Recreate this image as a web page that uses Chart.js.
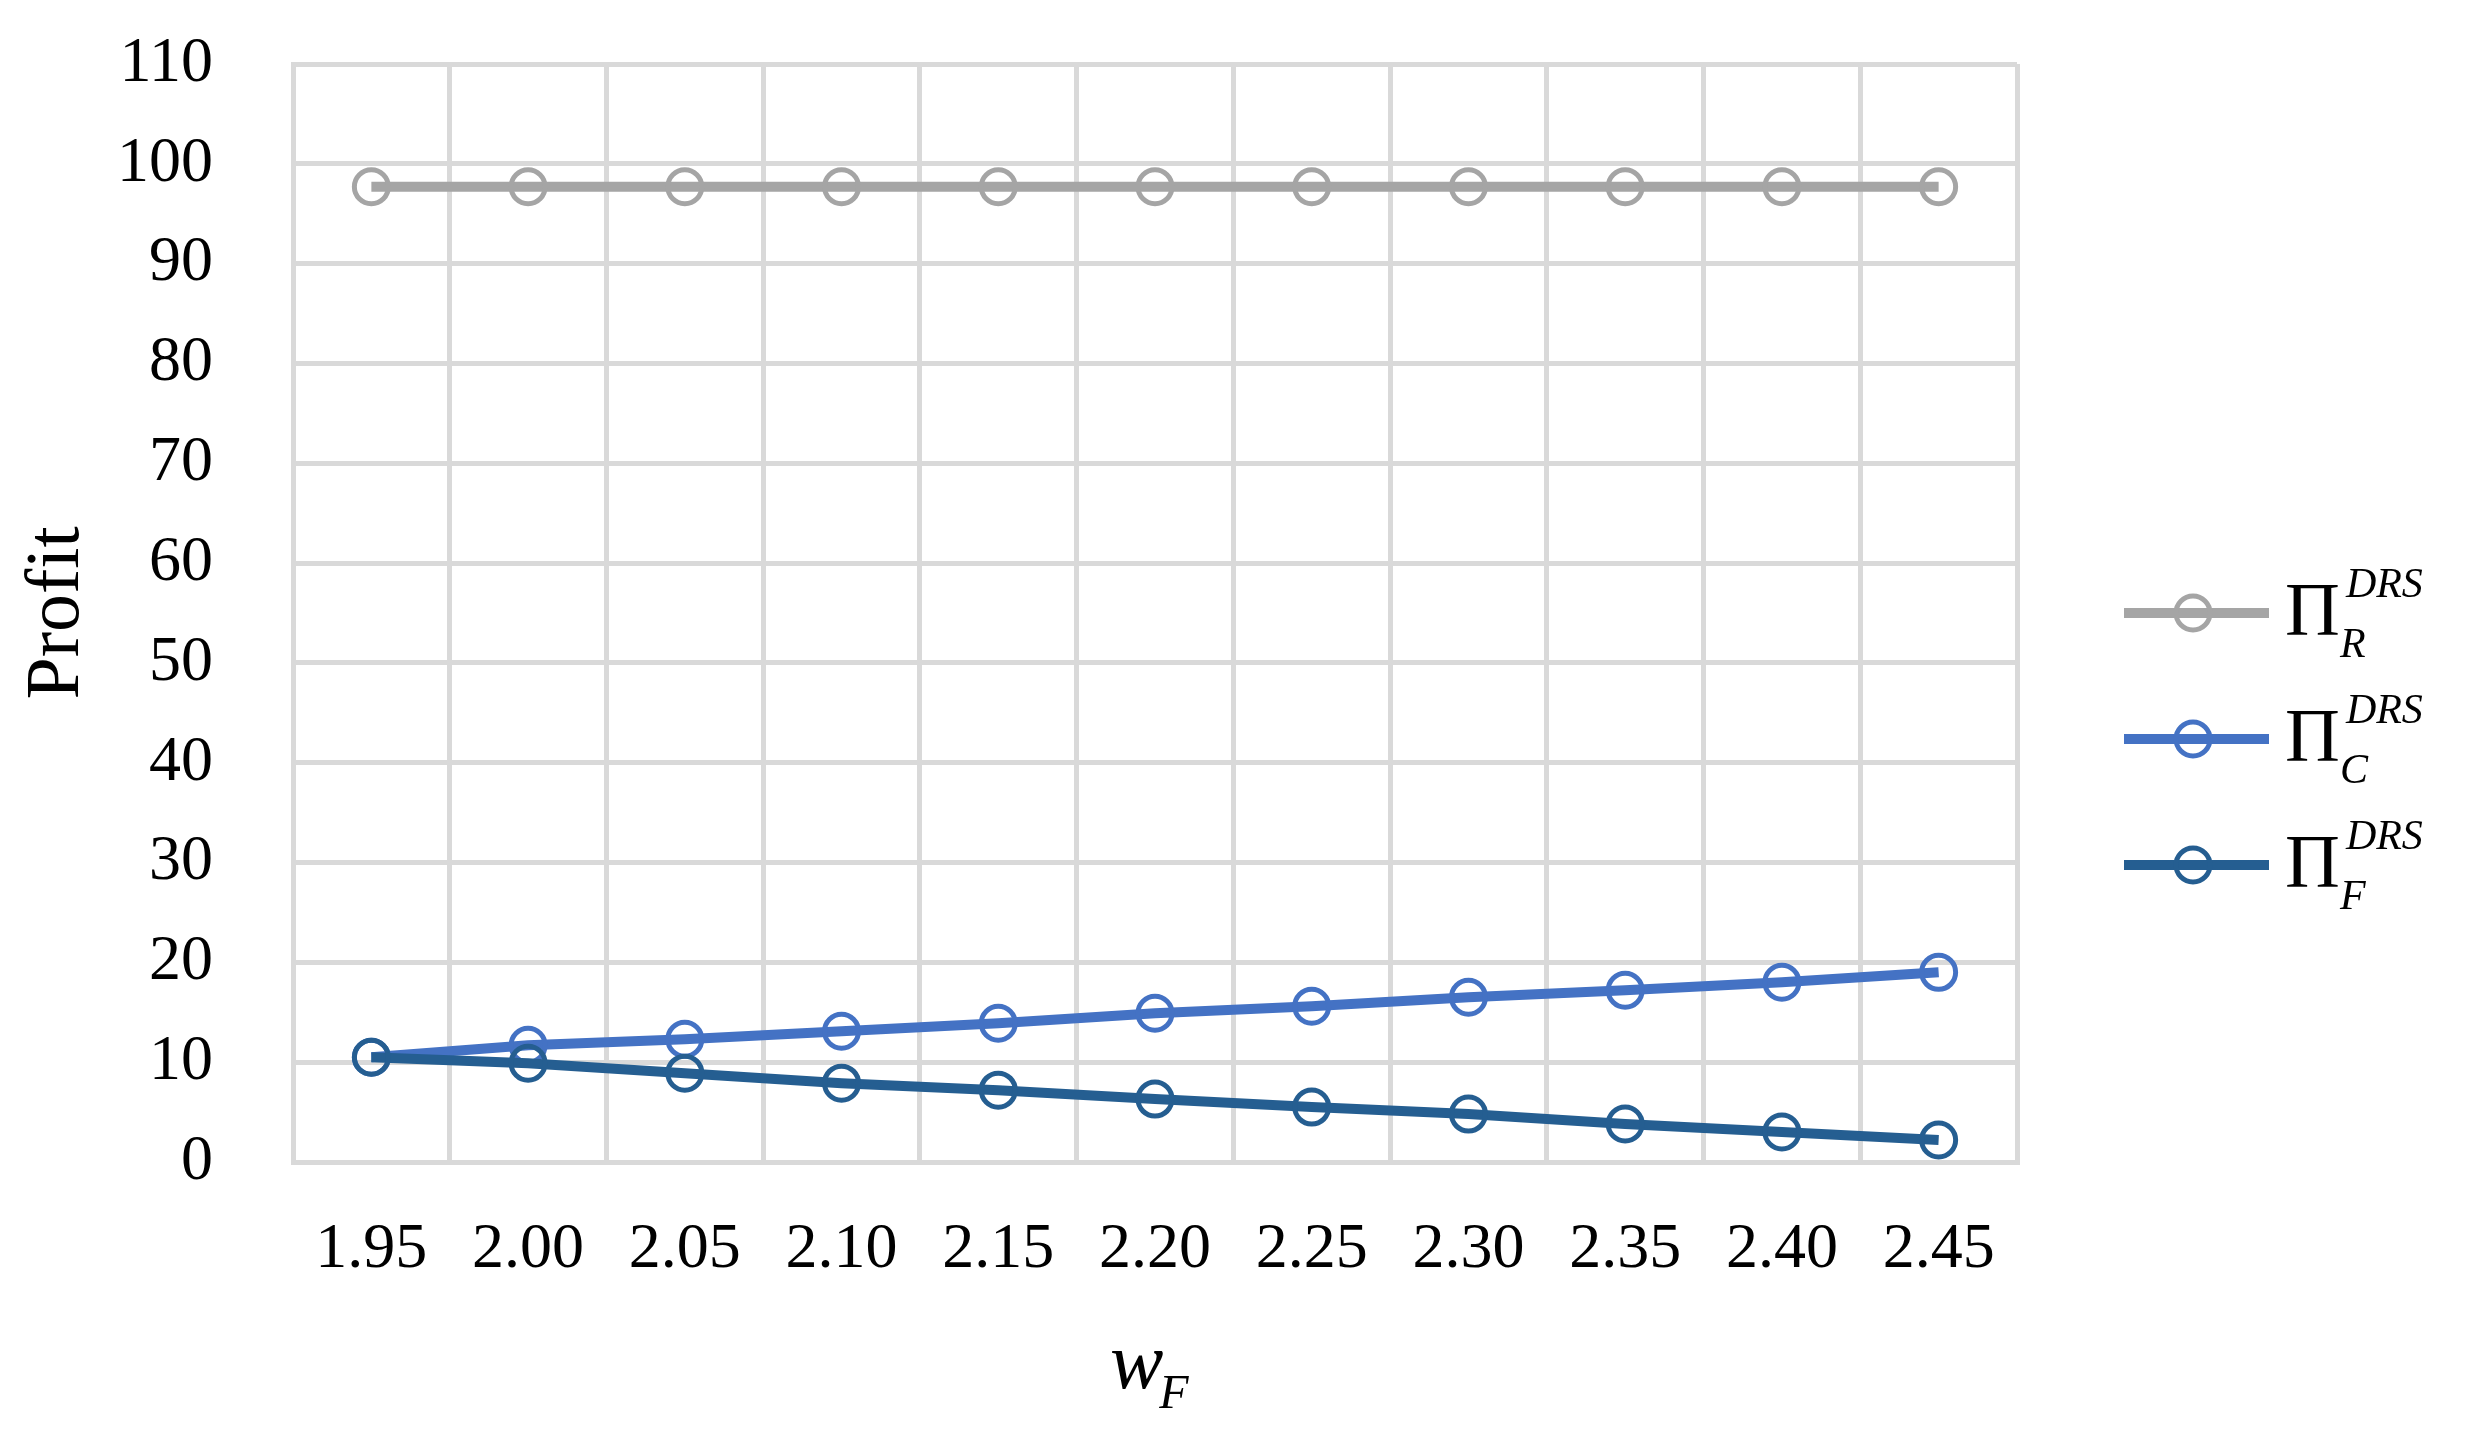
<!DOCTYPE html>
<html>
<head>
<meta charset="utf-8">
<script src="https://cdn.jsdelivr.net/npm/chart.js@4"></script>
<style>
  body { margin: 0; background: #fff; }
</style>
</head>
<body>
<canvas id="myChart" width="2470" height="1437"></canvas>
<script>
// data
const xLabels = ['1.95', '2.00', '2.05', '2.10', '2.15', '2.20', '2.25', '2.30', '2.35', '2.40', '2.45'];
const profitR = [97.7, 97.7, 97.7, 97.7, 97.7, 97.7, 97.7, 97.7, 97.7, 97.7, 97.7];
const profitC = [10.5, 11.7, 12.3, 13.1, 13.9, 14.9, 15.6, 16.5, 17.2, 18.0, 19.0];
const profitF = [10.5, 9.9, 8.9, 7.9, 7.2, 6.3, 5.5, 4.8, 3.8, 3.0, 2.2];
const seriesSubs = ['R', 'C', 'F'];
const seriesColors = ['#A5A5A5', '#4472C4', '#255E91'];
const yTicks = { min: 0, max: 110, step: 10 };

const serif = '"Liberation Serif", "DejaVu Serif", serif';

// legend and x title need sub/superscripts, so draw them by hand
const mathText = {
    id: 'mathText',
    afterDraw(chart) {
        const ctx = chart.ctx;
        const area = chart.chartArea;
        ctx.save();
        ctx.fillStyle = '#000';
        ctx.textBaseline = 'alphabetic';
        ctx.textAlign = 'left';

        // x axis title: w_F
        const cx = (area.left + area.right) / 2;
        ctx.font = 'italic 80px ' + serif;
        const wWidth = ctx.measureText('w').width;
        const tx = cx - 45;
        ctx.fillText('w', tx, 1388);
        ctx.font = 'italic 48px ' + serif;
        ctx.fillText('F', tx + wWidth - 4, 1408);

        // legend
        const lineX0 = area.right + 107;
        const lineX1 = area.right + 252;
        const markX = area.right + 176;
        const midY = (area.top + area.bottom) / 2;
        const gap = 126;
        seriesSubs.forEach((sub, i) => {
            const y = midY + i * gap;
            const col = seriesColors[i];
            ctx.strokeStyle = col;
            ctx.lineWidth = 10;
            ctx.beginPath();
            ctx.moveTo(lineX0, y);
            ctx.lineTo(lineX1, y);
            ctx.stroke();
            ctx.lineWidth = 5;
            ctx.beginPath();
            ctx.arc(markX, y, 17, 0, Math.PI * 2);
            ctx.stroke();

            ctx.fillStyle = '#000';
            ctx.font = '76px ' + serif;
            const px = area.right + 268;
            ctx.fillText('\u03A0', px, y + 22);
            const pw = ctx.measureText('\u03A0').width;
            ctx.font = 'italic 42px ' + serif;
            ctx.fillText('DRS', px + pw + 6, y - 16);
            ctx.fillText(sub, px + pw, y + 44);
        });
        ctx.restore();
    }
};

const makeSet = (label, data, i, order) => ({
    label: label,
    data: data,
    borderColor: seriesColors[i],
    backgroundColor: seriesColors[i],
    borderWidth: 10,
    pointRadius: 17,
    pointHoverRadius: 17,
    pointBorderWidth: 5,
    pointBackgroundColor: 'rgba(0,0,0,0)',
    pointBorderColor: seriesColors[i],
    tension: 0,
    order: order
});

const ctx = document.getElementById('myChart').getContext('2d');
const chart = new Chart(ctx, {
    type: 'line',
    data: {
        labels: xLabels,
        datasets: [
            makeSet('\u03A0R DRS', profitR, 0, 2),
            makeSet('\u03A0C DRS', profitC, 1, 1),
            makeSet('\u03A0F DRS', profitF, 2, 0)
        ]
    },
    plugins: [mathText],
    options: {
        responsive: false,
        animation: false,
        devicePixelRatio: 1,
        layout: {
            padding: { top: 64, right: 453, left: 0, bottom: 0 }
        },
        plugins: {
            legend: { display: false },
            tooltip: { enabled: false }
        },
        scales: {
            x: {
                offset: true,
                grid: { offset: true, color: '#D9D9D9', lineWidth: 5, drawTicks: false },
                border: { color: '#D9D9D9', width: 5 },
                ticks: {
                    color: '#000',
                    padding: 50,
                    maxRotation: 0,
                    font: { family: serif, size: 64 }
                },
                afterFit: (scale) => { scale.height = 275; }
            },
            y: {
                min: yTicks.min,
                max: yTicks.max,
                // invisible tick marks hold the label gap, so the top isn't pushed down
                grid: { color: '#D9D9D9', lineWidth: 5, drawTicks: true, tickLength: 72, tickColor: 'rgba(0,0,0,0)' },
                border: { color: '#D9D9D9', width: 5 },
                ticks: {
                    stepSize: yTicks.step,
                    color: '#000',
                    padding: 8,
                    font: { family: serif, size: 64 }
                },
                title: {
                    display: true,
                    text: 'Profit',
                    color: '#000',
                    padding: { top: 12, bottom: 0 },
                    font: { family: serif, size: 76 }
                },
                afterFit: (scale) => { scale.width = 293; }
            }
        }
    }
});
</script>
</body>
</html>
